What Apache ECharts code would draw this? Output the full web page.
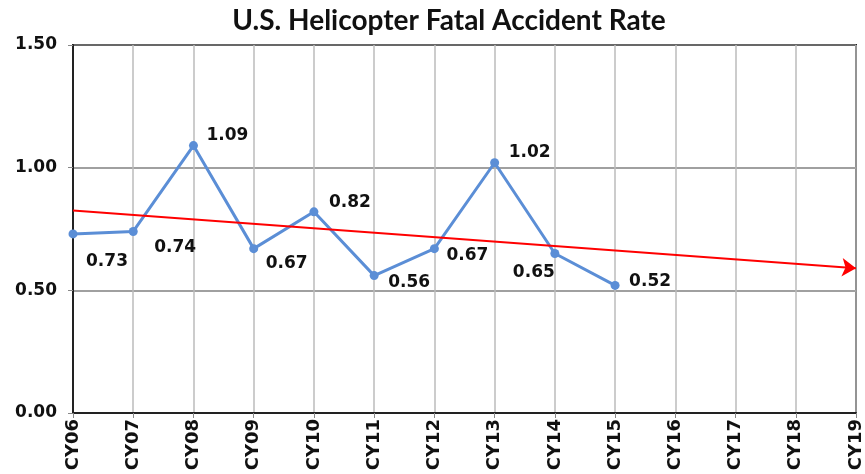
<!DOCTYPE html>
<html>
<head>
<meta charset="utf-8">
<script src="https://cdn.jsdelivr.net/npm/echarts@6/dist/echarts.min.js"></script>
<style>html,body{margin:0;padding:0;background:#fff;}#c{width:865px;height:474px;}</style>
</head>
<body>
<div id="c"></div>
<script>
var categories = ['CY06','CY07','CY08','CY09','CY10','CY11','CY12','CY13','CY14','CY15','CY16','CY17','CY18','CY19'];
var rates = [0.73, 0.74, 1.09, 0.67, 0.82, 0.56, 0.67, 1.02, 0.65, 0.52];
var trendStart = ['CY06', 0.825];
var trendEnd = ['CY19', 0.59];
var yTicks = [0, 0.5, 1.0, 1.5];

var labelOffsets = [[34,28],[42,16],[34,-10],[33,15],[36,-9],[35,7],[33,7],[35,-10],[-21,19],[35,-4]];
var lineData = rates.map(function(v, i){
  return {value: v, label: {offset: labelOffsets[i]}};
});

var chart = echarts.init(document.getElementById('c'));
chart.setOption({
  animation: false,
  title: {
    text: 'U.S. Helicopter Fatal Accident Rate',
    left: 444, top: 2, textAlign: 'center',
    textStyle: {fontFamily: 'Lato', fontWeight: 'bold', fontSize: 28, color: '#111'}
  },
  grid: {left: 73, right: 8, top: 45, bottom: 61, show: true, borderColor: '#222', borderWidth: 2},
  xAxis: {
    type: 'category', data: categories, boundaryGap: false,
    axisLine: {lineStyle: {color: '#222', width: 2}},
    axisTick: {show: true, length: 5, lineStyle: {color: '#888'}},
    splitLine: {show: true, lineStyle: {color: '#bbb', width: 1.5}},
    axisLabel: {rotate: 90, fontFamily: 'DejaVu Sans', fontWeight: 'bold', fontSize: 18, color: '#111', margin: 6}
  },
  yAxis: {
    type: 'value', min: yTicks[0], max: yTicks[yTicks.length-1], interval: 0.5,
    axisLine: {show: true, lineStyle: {color: '#222', width: 2}},
    axisTick: {show: true, length: 5, lineStyle: {color: '#888'}},
    splitLine: {show: true, lineStyle: {color: '#808080', width: 1.5}},
    axisLabel: {formatter: function(v){return v.toFixed(2);}, fontFamily: 'DejaVu Sans', fontWeight: 'bold', fontSize: 17, color: '#111', margin: 16}
  },
  series: [{
    type: 'line', data: lineData, clip: false,
    symbol: 'circle', symbolSize: 9,
    lineStyle: {color: '#5b8ed6', width: 3},
    itemStyle: {color: '#5b8ed6'},
    label: {show: true, position: 'inside', formatter: function(p){return p.value.toFixed(2);},
      fontFamily: 'DejaVu Sans', fontWeight: 'bold', fontSize: 17, color: '#111'},
    markLine: {
      silent: true, animation: false,
      symbol: ['none', 'arrow'], symbolSize: 14,
      label: {show: false},
      itemStyle: {color: '#ff0000'},
      lineStyle: {color: '#ff0000', width: 2, type: 'solid'},
      data: [[{coord: trendStart, symbol: 'none'}, {coord: trendEnd, symbol: 'arrow', symbolSize: 14}]]
    },
    z: 3
  }]
});
</script>
</body>
</html>
